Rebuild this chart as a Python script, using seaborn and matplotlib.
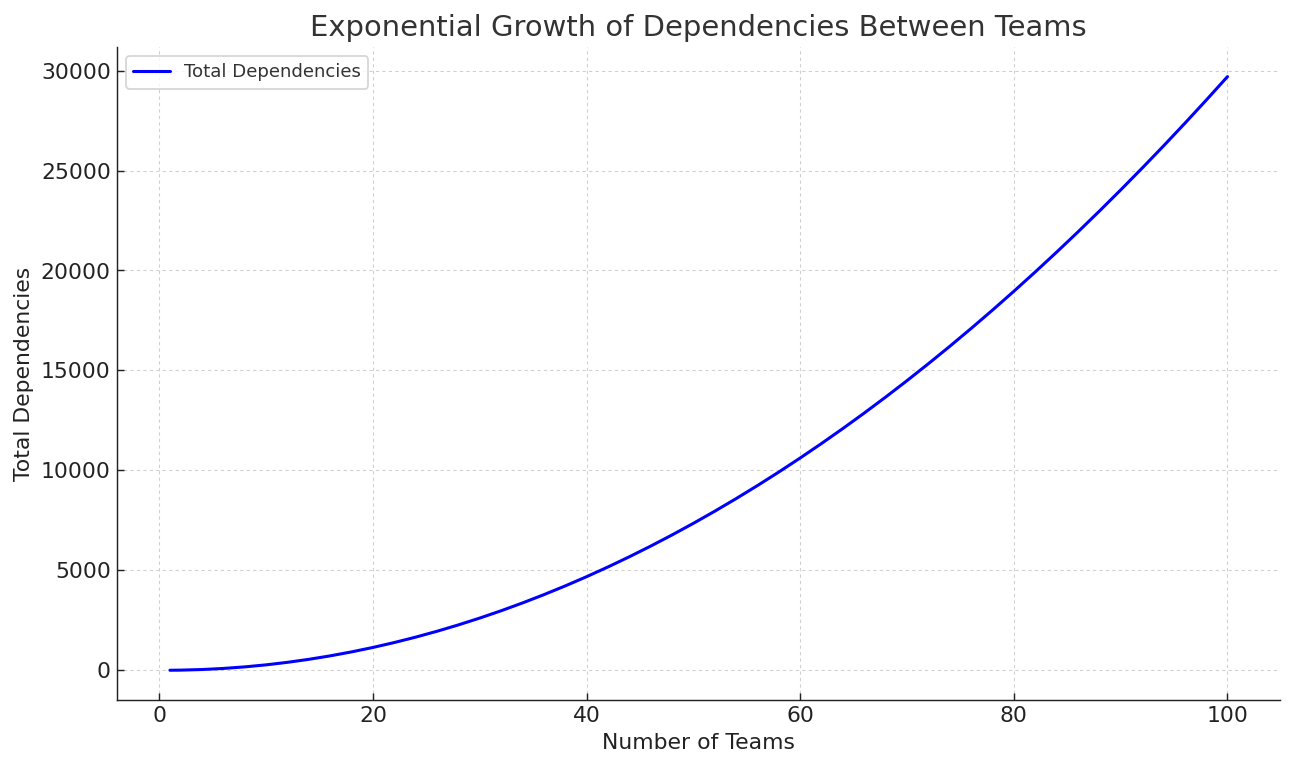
import matplotlib
matplotlib.use("Agg")
import matplotlib.pyplot as plt
import seaborn as sns
import pandas as pd

# Values (teams -> total dependencies)
teams = [1, 2, 4, 6, 8, 10, 12, 14, 16, 18, 20, 22, 24, 26, 28, 30, 32, 34, 36, 38, 40,
         42, 44, 46, 48, 50, 52, 54, 56, 58, 60, 62, 64, 66, 68, 70, 72, 74, 76, 78, 80,
         82, 84, 86, 88, 90, 92, 94, 96, 98, 100]
dependencies = [0, 6, 36, 90, 168, 270, 396, 546, 720, 918, 1140,
                1386, 1656, 1950, 2268, 2610, 2976, 3366, 3780, 4218, 4680,
                5166, 5676, 6210, 6768, 7350, 7956, 8586, 9240, 9918, 10620,
                11346, 12096, 12870, 13668, 14490, 15336, 16206, 17100, 18018, 18960,
                19926, 20916, 21930, 22968, 24030, 25116, 26226, 27360, 28518, 29700]

df = pd.DataFrame({"teams": teams, "deps": dependencies})

sns.set_style("ticks")
plt.rcParams["font.family"] = ["DejaVu Sans"]

fig, ax = plt.subplots(figsize=(10, 5.96), dpi=129.2)
fig.subplots_adjust(left=0.0906, right=0.991, top=0.939, bottom=0.091)

sns.lineplot(data=df, x="teams", y="deps", color="blue", linewidth=1.7,
             label="Total Dependencies", ax=ax)

ax.set_title("Exponential Growth of Dependencies Between Teams",
             fontsize=16.2, color="#333333")
ax.set_xlabel("Number of Teams", fontsize=12.2, color="#222222")
ax.set_ylabel("Total Dependencies", fontsize=12.2, color="#222222")
ax.tick_params(labelsize=12.2, colors="#222222", direction="in",
               length=4, width=0.8)
ax.set_xticks([0, 20, 40, 60, 80, 100])
ax.set_yticks([0, 5000, 10000, 15000, 20000, 25000, 30000])
ax.grid(True, linestyle=(0, (3, 3)), color="#cfcfcf", linewidth=0.6)
sns.despine(ax=ax)
for s in ["left", "bottom"]:
    ax.spines[s].set_color("#222222")

leg = ax.legend(loc="upper left", fontsize=10.1, frameon=True)
for t in leg.get_texts():
    t.set_color("#333333")

fig.savefig("out.png", dpi=129.2)
